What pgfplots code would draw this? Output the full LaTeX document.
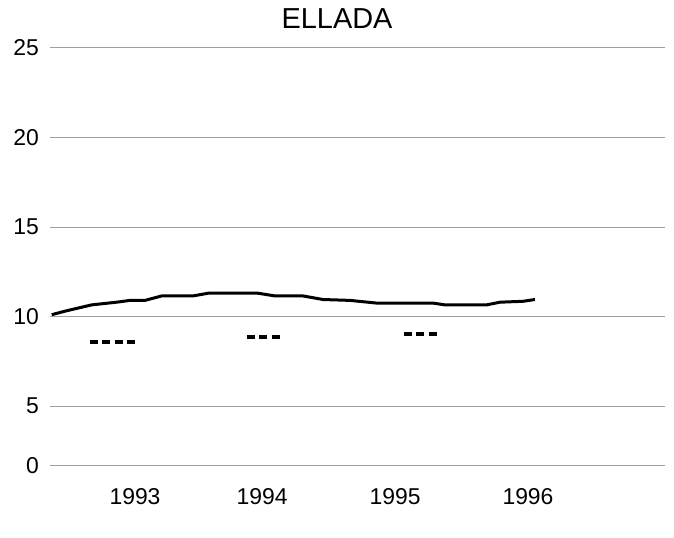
\documentclass[border=0pt]{standalone}
\usepackage{pgfplots}
\pgfplotsset{compat=1.18}
\usepackage{fontspec}
\setmainfont{Liberation Sans}
\begin{document}
\begin{tikzpicture}
\begin{axis}[
  scale only axis, width=307.5bp, height=209bp,
  xmin=1992.351, xmax=1997.046,
  ymin=1.65, ymax=25,
  clip=false,
  axis line style={draw=none},
  tick style={draw=none},
  xtick={1993,1993.97,1994.985,1996},
  xticklabels={1993,1994,1995,1996},
  ytick={1.65,5,10,15,20,25},
  yticklabels={0,5,10,15,20,25},
  ymajorgrids,
  grid style={gray!75, line width=0.5bp},
  ticklabel style={font=\fontsize{11.5}{13}\selectfont},
  /pgf/number format/assume math mode=true,
  xticklabel style={yshift=-7.5bp},
  yticklabel style={xshift=-2bp},
]
\addplot[black, line width=1.5bp, mark=none] coordinates {
(1992.364,10.1) (1992.466,10.3) (1992.669,10.65) (1992.860,10.8) (1992.962,10.9)
(1993.076,10.9) (1993.204,11.15) (1993.443,11.15) (1993.557,11.3) (1993.939,11.3)
(1994.069,11.15) (1994.282,11.15) (1994.435,10.95) (1994.641,10.9) (1994.845,10.75)
(1995.275,10.75) (1995.366,10.65) (1995.685,10.65) (1995.786,10.8) (1995.962,10.85)
(1996.053,10.95)
};
\addplot[black, line width=2bp, dash pattern=on 4bp off 2.2bp, mark=none] coordinates {
(1992.656,8.58) (1993.015,8.58)
};
\addplot[black, line width=2bp, dash pattern=on 4bp off 2.2bp, mark=none] coordinates {
(1993.853,8.83) (1994.120,8.83)
};
\addplot[black, line width=2bp, dash pattern=on 4bp off 2.2bp, mark=none] coordinates {
(1995.053,9.05) (1995.313,9.05)
};
\node[anchor=base, font=\fontsize{14.5}{16}\selectfont] at (rel axis cs:0.4667,1.0478) {ELLADA};
\path (rel axis cs:-0.0813,1.1148) (rel axis cs:1.0146,-0.1722);
\end{axis}
\end{tikzpicture}
\end{document}
